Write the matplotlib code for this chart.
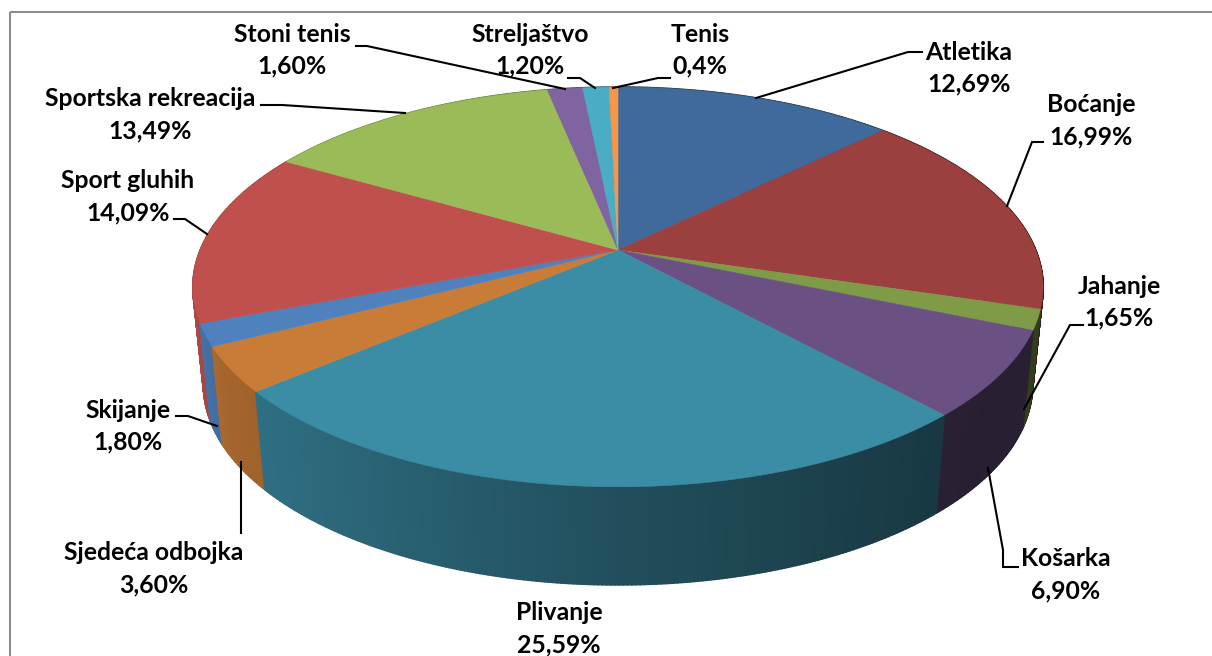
import numpy as np
import matplotlib
matplotlib.use('Agg')
import matplotlib.pyplot as plt
from matplotlib.collections import PolyCollection
from matplotlib.patches import Rectangle

# Data
sports = ['Atletika', 'Boćanje', 'Jahanje', 'Košarka', 'Plivanje', 'Sjedeća odbojka',
          'Skijanje', 'Sport gluhih', 'Sportska rekreacija', 'Stoni tenis', 'Streljaštvo', 'Tenis']
shares = [12.69, 16.99, 1.65, 6.90, 25.59, 3.60, 1.80, 14.09, 13.49, 1.60, 1.20, 0.4]
share_labels = ['12,69%', '16,99%', '1,65%', '6,90%', '25,59%', '3,60%',
                '1,80%', '14,09%', '13,49%', '1,60%', '1,20%', '0,4%']
colors = ['#406a9b', '#9b403e', '#7f9b48', '#6a5083', '#3b8ca5', '#c97c37',
          '#4f81bd', '#c0504d', '#9bbb59', '#8064a2', '#4bacc6', '#f79646']

# Label centres in pixels
label_pos = [(969, 52), (1091, 105), (1119, 286), (1066, 559), (559, 613), (154, 553),
             (128, 410), (128, 181), (150, 99), (292, 34), (530, 34), (700, 34)]

# Leader lines in pixels
leaders = [
    [(922, 52), (908, 52), (756, 98)],
    [(1043, 142), (1032, 142), (1007, 206)],
    [(1083, 325), (1070, 325), (1024, 409)],
    [(988, 468), (1003, 550), (1003, 567), (1018, 567)],
    None,
    [(241, 462), (241, 533)],
    [(176, 416), (188, 416), (217, 426)],
    [(174, 219), (185, 219), (207, 234)],
    [(261, 105), (282, 105), (405, 113)],
    [(356, 46), (367, 46), (565, 89)],
    [(568, 78), (580, 78), (595, 88)],
    [(670, 78), (658, 78), (613, 88)],
]

# Geometry of the tilted pie (pixels)
cx, cy = 618, 250
persp = 0.185
a_x, a_y = 417.7, 193
depth = 98
shrink = 0.975


def project(theta):
    # angle runs clockwise from the top of the pie
    u, v = np.sin(theta), np.cos(theta)
    w = 1 + persp * v
    return cx + a_x * u / w, cy - a_y * v / w


def wall_shade(theta):
    return np.interp(np.sin(theta), [-1, -0.85, 0, 0.77, 1], [0.92, 0.82, 0.56, 0.38, 0.40])


def darken(hex_color, f):
    rgb = np.array(matplotlib.colors.to_rgb(hex_color))
    return tuple(rgb * f)


fig = plt.figure(figsize=(12.12, 6.56), dpi=100)
ax = fig.add_axes([0, 0, 1, 1])
ax.set_xlim(0, 1212)
ax.set_ylim(656, 0)
ax.axis('off')

# frame runs off the right and bottom of the picture
ax.add_patch(Rectangle((9.5, 11.5), 1240, 680, fill=False, edgecolor='#8c8c8c', lw=1.5))

total = sum(shares)
edges = np.concatenate([[0], np.cumsum(shares)]) / total * 2 * np.pi

# Walls first, back to front, then the top faces over them
quads, quad_colors, keys = [], [], []
for i, col in enumerate(colors):
    n = max(3, int((edges[i + 1] - edges[i]) * 120))
    th = np.linspace(edges[i], edges[i + 1], n + 1)
    x, y = project(th)
    xb = cx + (x - cx) * shrink
    yb = y + depth
    for j in range(n):
        quads.append([(x[j], y[j]), (x[j + 1], y[j + 1]), (xb[j + 1], yb[j + 1]), (xb[j], yb[j])])
        mid = (th[j] + th[j + 1]) / 2
        quad_colors.append(darken(col, wall_shade(mid)))
        keys.append(y[j])
order = np.argsort(keys)
ax.add_collection(PolyCollection([quads[k] for k in order],
                                 facecolors=[quad_colors[k] for k in order],
                                 edgecolors=[quad_colors[k] for k in order], linewidths=1.3))

for i, col in enumerate(colors):
    th = np.linspace(edges[i], edges[i + 1], 200)
    x, y = project(th)
    ax.fill(np.r_[cx, x], np.r_[cy, y], color=col, lw=0.4)

for line in leaders:
    if line:
        xs, ys = zip(*line)
        ax.plot(xs, ys, color='black', lw=1.5, solid_joinstyle='miter')

for name, pct, (lx, ly) in zip(sports, share_labels, label_pos):
    ax.text(lx, ly, name, ha='center', va='center', family='Lato', weight='bold',
            fontsize=17.8, color='black')
    ax.text(lx, ly + 32, pct, ha='center', va='center', family='Lato', weight='bold',
            fontsize=17.8, color='black')

fig.savefig('out.png', dpi=100)
